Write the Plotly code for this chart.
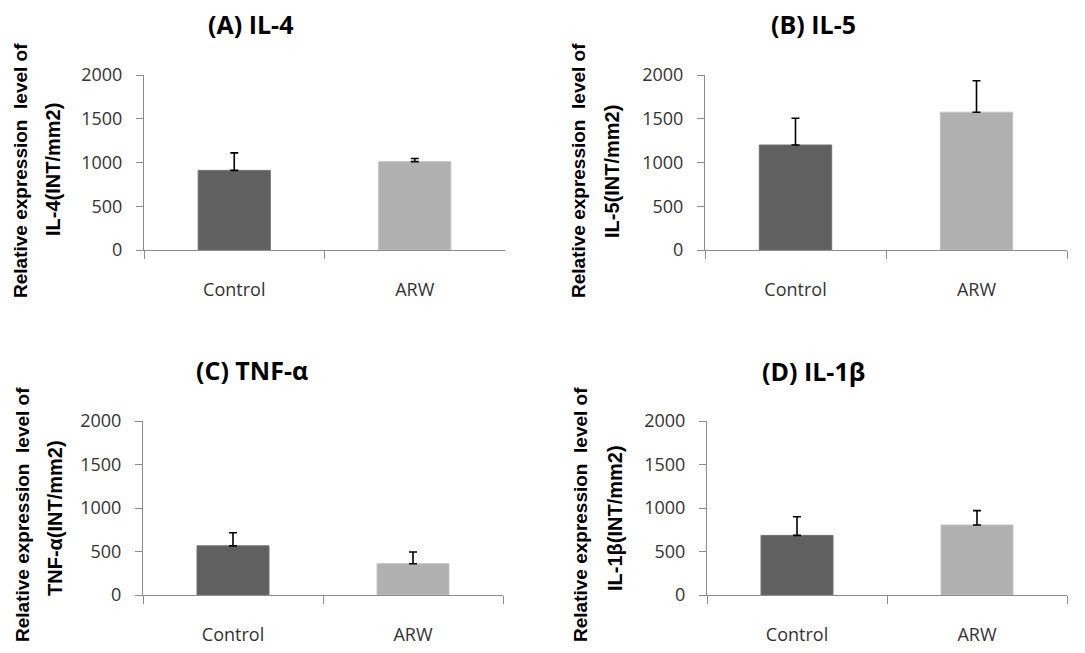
import plotly.graph_objects as go

W, H = 1085, 653
OFF = 8  # page body margin in the browser
FW, FH = W - OFF, H - OFF

categories = ["Control", "ARW"]
panel_titles = ["(A) IL-4", "(B) IL-5", "(C) TNF-α", "(D) IL-1β"]
ylabel_line1 = "Relative expression  level of"
ylabel_line2 = ["IL-4(INT/mm2)", "IL-5(INT/mm2)", "TNF-α(INT/mm2)", "IL-1β(INT/mm2)"]

il4_mean = [910, 1010]
il4_err = [200, 35]
il5_mean = [1200, 1575]
il5_err = [305, 360]
tnfa_mean = [565, 360]
tnfa_err = [150, 135]
il1b_mean = [685, 805]
il1b_err = [215, 165]

y_ticks = [0, 500, 1000, 1500, 2000]
bar_colors = ["#606060", "#b0b0b0"]

means = [il4_mean, il5_mean, tnfa_mean, il1b_mean]
errs = [il4_err, il5_err, tnfa_err, il1b_err]

# layout (window pixels)
x_domains_px = [(144, 505), (705, 1067), (143, 503), (707, 1067)]
y_domains_px = [(75, 250), (75, 250), (421, 595), (421, 595)]
title_pos_px = [(250, 24), (813, 24), (252, 370), (813, 371)]
ylab1_pos_px = [(20, 171), (578, 171), (22, 515), (580, 515)]
ylab2_pos_px = [(53, 170), (612, 172), (55, 518), (615, 518)]


def px(x):
    return (x - OFF) / FW


def py(y):
    return 1 - (y - OFF) / FH


fig = go.Figure()
tick_font = dict(family="Open Sans, sans-serif", size=18, color="#333333")

for i in range(4):
    n = i + 1
    xa = "x" if n == 1 else f"x{n}"
    ya = "y" if n == 1 else f"y{n}"
    fig.add_trace(go.Bar(
        x=categories, y=means[i], width=0.4,
        marker=dict(color=bar_colors, line=dict(color=["#707070", "#c4c4c4"], width=1)),
        error_y=dict(type="data", symmetric=False, array=errs[i], arrayminus=[0, 0],
                     color="black", thickness=1.6, width=4),
        xaxis=xa, yaxis=ya, showlegend=False, hoverinfo="skip",
    ))
    x0, x1 = x_domains_px[i]
    y0, y1 = y_domains_px[i]
    xkey = "xaxis" if n == 1 else f"xaxis{n}"
    ykey = "yaxis" if n == 1 else f"yaxis{n}"
    fig.layout[xkey] = dict(
        domain=[px(x0), px(x1)], anchor=ya, type="category", range=[-0.5, 1.5],
        showline=True, linecolor="#8c8c8c", linewidth=1.2,
        ticks="outside", tickson="boundaries", ticklen=8, tickcolor="#8c8c8c",
        tickwidth=1.2, showgrid=False, zeroline=False, tickfont=tick_font,
        ticklabelstandoff=23, fixedrange=True, automargin=False,
    )
    fig.layout[ykey] = dict(
        domain=[py(y1), py(y0)], anchor=xa, range=[0, 2000], tickvals=y_ticks,
        showline=True, linecolor="#8c8c8c", linewidth=1.2,
        ticks="outside", ticklen=7, tickcolor="#8c8c8c", tickwidth=1.2,
        showgrid=False, zeroline=False, tickfont=tick_font,
        ticklabelstandoff=10, fixedrange=True, automargin=False,
    )
    tx, ty = title_pos_px[i]
    fig.add_annotation(
        text=f"<b>{panel_titles[i]}</b>", x=px(tx), y=py(ty),
        xref="paper", yref="paper", showarrow=False, xanchor="center", yanchor="middle",
        font=dict(family="Open Sans, sans-serif", size=25, color="black"),
    )
    lx, ly = ylab1_pos_px[i]
    fig.add_annotation(
        text=f"<b>{ylabel_line1}</b>", x=px(lx), y=py(ly), textangle=-90,
        xref="paper", yref="paper", showarrow=False, xanchor="center", yanchor="middle",
        font=dict(family="Liberation Sans, Arial, sans-serif", size=19, color="black"),
    )
    lx, ly = ylab2_pos_px[i]
    fig.add_annotation(
        text=f"<b>{ylabel_line2[i]}</b>", x=px(lx), y=py(ly), textangle=-90,
        xref="paper", yref="paper", showarrow=False, xanchor="center", yanchor="middle",
        font=dict(family="Liberation Sans, Arial, sans-serif", size=20, color="black"),
    )

fig.update_layout(
    width=FW, height=FH, margin=dict(l=0, r=0, t=0, b=0, autoexpand=False),
    paper_bgcolor="white", plot_bgcolor="white", bargap=0.6,
)

fig.write_html("out.html", config={"displayModeBar": False})
